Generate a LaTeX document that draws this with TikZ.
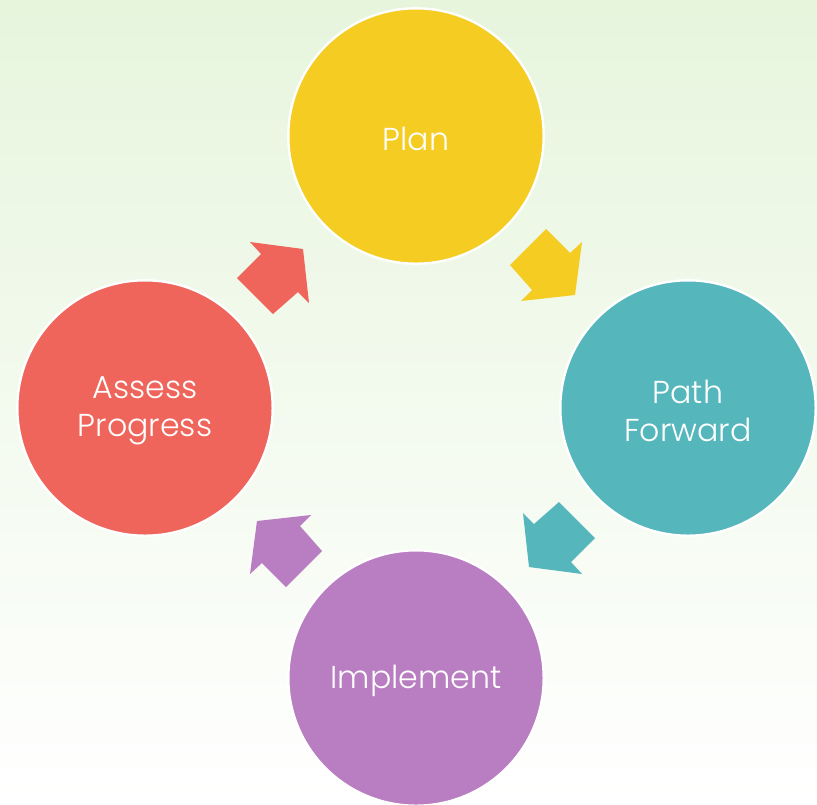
\documentclass[tikz,border=0pt]{standalone}
\usepackage{fontspec}
\setmainfont{Poppins}[UprightFont=* Light]
\definecolor{cyel}{RGB}{244,204,34}
\definecolor{cteal}{RGB}{85,183,188}
\definecolor{cpurp}{RGB}{185,126,193}
\definecolor{cred}{RGB}{239,101,91}
\definecolor{bgtop}{RGB}{231,245,221}
\definecolor{bgbot}{RGB}{255,255,255}
\begin{document}
\begin{tikzpicture}[x=0.03cm,y=-0.03cm,
  stage/.style={circle, draw=white, line width=0.07cm, minimum size=7.66cm, inner sep=0pt,
    text=white, font=\fontsize{27}{32}\selectfont, align=center},
  label/.style={text=white, font=\fontsize{27}{32}\selectfont, align=center, yshift=-2.5pt}]
\useasboundingbox (0,0) rectangle (817,804);
\shade[top color=bgtop, bottom color=bgbot] (0,0) rectangle (817,804);
\node[stage, fill=cyel] (plan) at (416,136) {};
\node[stage, fill=cteal] (path) at (688,408) {};
\node[stage, fill=cpurp] (impl) at (416,678) {};
\node[stage, fill=cred] (assess) at (145,408) {};
\node[label] (planT) at (plan.center) {Plan};
\node[label] (pathT) at (path.center) {Path\\Forward};
\node[label] (implT) at (impl.center) {Implement};
\node[label] (assessT) at (assess.center) {Assess\\Progress};
\coordinate (c) at (416,408);
\foreach \ang/\col in {0/cred, 90/cyel, 180/cteal, 270/cpurp}{
  \begin{scope}[shift={(c)}, rotate=-\ang]
    \fill[\col] (-179,-130) -- (-155,-154) -- (-166,-166) -- (-113,-159)
      -- (-107,-105) -- (-118,-116) -- (-143,-94) -- cycle;
  \end{scope}
}
\end{tikzpicture}
\end{document}
